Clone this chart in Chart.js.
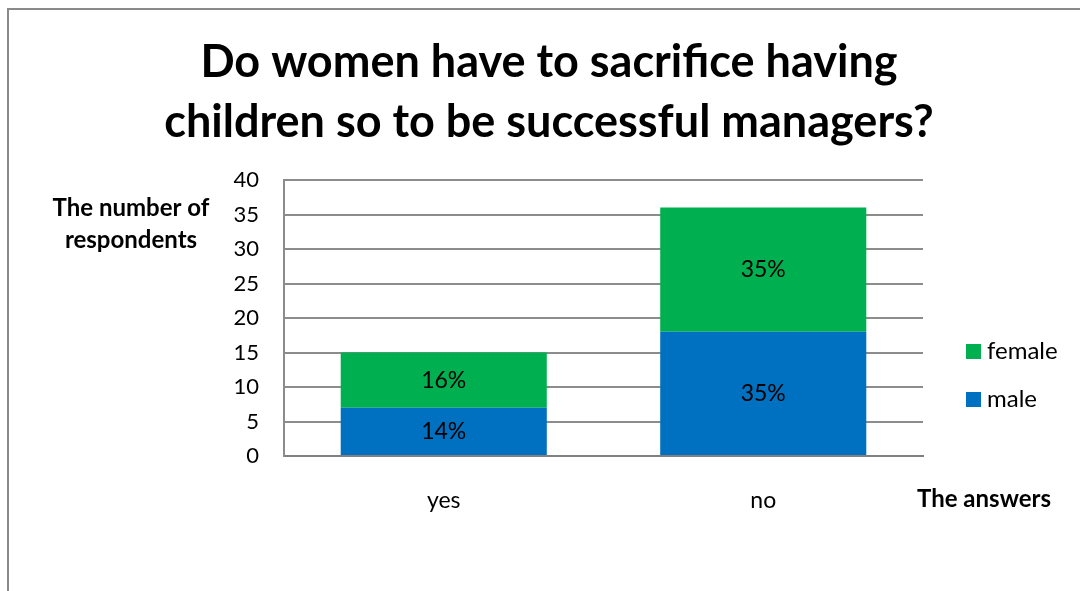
<!DOCTYPE html>
<html>
<head>
<meta charset="utf-8">
<title>Do women have to sacrifice having children so to be successful managers?</title>
<script src="https://cdn.jsdelivr.net/npm/chart.js@4.4.1/dist/chart.umd.min.js"></script>
<style>
  html, body { margin: 0; padding: 0; background: #ffffff; }
  #wrap { width: 1080px; height: 591px; }
</style>
</head>
<body>
<div id="wrap"><canvas id="chart" width="1080" height="591"></canvas></div>
<script>
// Survey answers, counted by respondent sex
const answers = ['yes', 'no'];
const maleCounts = [7, 18];
const femaleCounts = [8, 18];
const malePercentLabels = ['14%', '35%'];
const femalePercentLabels = ['16%', '35%'];
const yTicks = [0, 5, 10, 15, 20, 25, 30, 35, 40];

const titleLines = ['Do women have to sacrifice having', 'children so to be successful managers?'];
const yTitleLines = ['The number of', 'respondents'];
const xTitle = 'The answers';

const FONT = 'Lato, "Open Sans", sans-serif';
const GREEN = '#00B050';
const BLUE = '#0070C0';
const GRID = '#8c8c8c';

// Frame, title, axis titles, legend and in-bar labels
const decorations = {
  id: 'decorations',
  beforeDraw(chart) {
    const ctx = chart.ctx;
    ctx.save();
    ctx.fillStyle = '#ffffff';
    ctx.fillRect(0, 0, chart.width, chart.height);
    ctx.strokeStyle = '#8a8a8a';
    ctx.lineWidth = 2;
    ctx.beginPath();
    ctx.moveTo(8, chart.height);
    ctx.lineTo(8, 9);
    ctx.lineTo(chart.width, 9);
    ctx.stroke();
    ctx.restore();
  },
  afterDraw(chart) {
    const ctx = chart.ctx;
    ctx.save();
    ctx.fillStyle = '#000000';
    ctx.textBaseline = 'middle';

    // chart title
    ctx.textAlign = 'center';
    ctx.font = 'bold 45px ' + FONT;
    ctx.fillText(titleLines[0], 549, 62);
    ctx.fillText(titleLines[1], 549, 122);

    // axis titles
    ctx.font = 'bold 24px ' + FONT;
    ctx.fillText(yTitleLines[0], 131, 208);
    ctx.fillText(yTitleLines[1], 131, 240);
    ctx.textAlign = 'left';
    ctx.fillText(xTitle, 917, 499);

    // legend, top entry is the top segment of the stack
    const entries = [
      { label: chart.data.datasets[1].label, color: chart.data.datasets[1].backgroundColor, y: 351 },
      { label: chart.data.datasets[0].label, color: chart.data.datasets[0].backgroundColor, y: 399 }
    ];
    ctx.font = '24px ' + FONT;
    entries.forEach(e => {
      ctx.fillStyle = e.color;
      ctx.fillRect(966, e.y - 7, 15, 15);
      ctx.fillStyle = '#000000';
      ctx.fillText(e.label, 987, e.y);
    });

    // percentage labels centred on each segment
    ctx.textAlign = 'center';
    ctx.font = '23px ' + FONT;
    const labelSets = [malePercentLabels, femalePercentLabels];
    chart.data.datasets.forEach((ds, di) => {
      chart.getDatasetMeta(di).data.forEach((bar, i) => {
        const p = bar.getProps(['x', 'y', 'base'], true);
        ctx.fillText(labelSets[di][i], p.x, (p.y + p.base) / 2);
      });
    });
    ctx.restore();
  }
};

new Chart(document.getElementById('chart'), {
  type: 'bar',
  data: {
    labels: answers,
    datasets: [
      { label: 'male', data: maleCounts, backgroundColor: BLUE, borderWidth: 0 },
      { label: 'female', data: femaleCounts, backgroundColor: GREEN, borderWidth: 0 }
    ]
  },
  options: {
    responsive: false,
    animation: false,
    devicePixelRatio: 1,
    layout: { padding: { top: 180, right: 157, bottom: 0, left: 0 } },
    datasets: { bar: { barPercentage: 0.645, categoryPercentage: 1.0 } },
    plugins: {
      legend: { display: false },
      title: { display: false },
      tooltip: { enabled: false }
    },
    scales: {
      x: {
        stacked: true,
        grid: { display: false, drawTicks: false },
        border: { display: true, color: '#808080', width: 2 },
        ticks: { color: '#000000', font: { family: FONT, size: 23 }, padding: 31 },
        afterFit(scale) { scale.height = 135; }
      },
      y: {
        stacked: true,
        min: 0,
        max: 40,
        afterBuildTicks(scale) { scale.ticks = yTicks.map(v => ({ value: v })); },
        grid: { color: GRID, lineWidth: 2, drawTicks: false },
        border: { display: true, color: GRID, width: 2 },
        ticks: { color: '#000000', font: { family: FONT, size: 22 }, padding: 25 },
        afterFit(scale) { scale.width = 284; }
      }
    }
  },
  plugins: [decorations]
});
</script>
</body>
</html>
